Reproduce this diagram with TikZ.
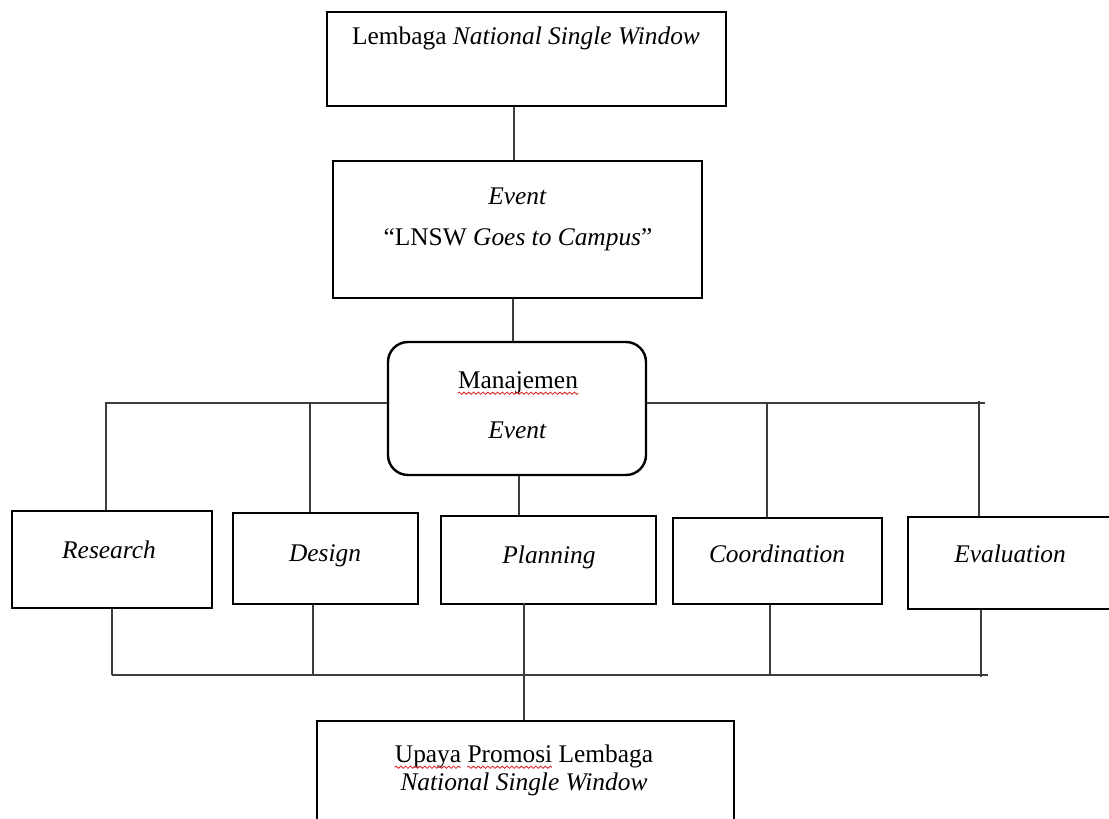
\documentclass[tikz,border=0pt]{standalone}
\usepackage{fontspec}
\setmainfont{Liberation Serif}
\usepackage{xcolor}
\usetikzlibrary{positioning,fit,decorations.pathmorphing}
\definecolor{linkgray}{RGB}{60,60,60}
\definecolor{spellred}{RGB}{220,30,30}
\newcommand\lblfont{\fontsize{12.7}{15}\selectfont}
\tikzset{
  box/.style={rectangle, draw=black, line width=1.35pt, inner sep=0pt},
  mgbox/.style={box, rounded corners=10pt, line width=1.2pt},
  txt/.style={anchor=base, inner sep=0pt, font=\lblfont},
  link/.style={draw=linkgray, line width=0.7pt},
  squig/.style={draw=spellred, line width=0.4pt, decorate, decoration={snake, amplitude=0.55pt, segment length=2.4pt}}
}

\begin{document}
\begin{tikzpicture}[x=0.5pt,y=-0.5pt]
  \useasboundingbox (0,0) rectangle (1109,819);
  \lblfont
  % upper chain
  \node[box, fit={(327,12) (726,106)}] (nsw) {};
  \node[txt] (nswtxt) at (526,45) {Lembaga \textit{National Single Window}};
  \node[box, fit={(333,161) (702,298)}] (event) {};
  \node[txt] (eventtxt) at (517.5,204) {\textit{Event}};
  \node[txt] (lnswtxt) at (518,245) {“LNSW \textit{Goes to Campus}”};
  \node[mgbox, fit={(388,342) (646,475)}] (mg) {};
  \node[txt] (mgtxt) at (518,388) {Manajemen};
  \node[txt] (mgtxt2) at (517.5,438) {\textit{Event}};
  \draw[link] (nsw.south -| 514,0) -- (event.north -| 514,0);
  \draw[link] (event.south -| 513,0) -- (mg.north -| 513,0);

  % five stages
  \node[box, fit={(12,511) (212,608)}] (research) {};
  \node[txt] (researchtxt) at (109,558) {\textit{Research}};
  \node[box, fit={(233,513) (418,604)}] (design) {};
  \node[txt] (designtxt) at (325,561) {\textit{Design}};
  \node[box, fit={(441,516) (656,604)}] (planning) {};
  \node[txt] (planningtxt) at (549,563) {\textit{Planning}};
  \node[box, fit={(673,518) (882,604)}] (coord) {};
  \node[txt] (coordtxt) at (777,562) {\textit{Coordination}};
  \node[box, fit={(908,517) (1112,609)}] (eval) {};
  \node[txt] (evaltxt) at (1010,562) {\textit{Evaluation}};

  % upper bus
  \coordinate (busL) at (106,403);
  \coordinate (busR) at (985,403);
  \draw[link] (mg.west |- busL) -- (busL) -- (research.north -| busL);
  \draw[link] (mg.east |- busR) -- (busR);
  \draw[link] (design.north -| 310,0) -- (busL -| 310,0);
  \draw[link] (mg.south -| 519,0) -- (planning.north -| 519,0);
  \draw[link] (coord.north -| 767,0) -- (busR -| 767,0);
  \draw[link] (eval.north -| 979,0) -- ([yshift=1pt]busR -| 979,0);

  % lower bus
  \coordinate (lowL) at (112,675);
  \coordinate (lowR) at (988,675);
  \draw[link] (lowL) -- (lowR);
  \draw[link] (research.south -| lowL) -- (lowL);
  \draw[link] (design.south -| 313,0) -- (lowL -| 313,0);
  \draw[link] (coord.south -| 770,0) -- (lowL -| 770,0);
  \draw[link] (eval.south -| 981,0) -- ([yshift=-1pt]lowL -| 981,0);

  % result
  \node[box, fit={(317,721) (734,840)}] (upaya) {};
  \node[txt] (upayatxt) at (524,762) {Upaya Promosi Lembaga};
  \node[txt] (upayatxt2) at (524,790) {\textit{National Single Window}};
  \draw[link] ([yshift=1pt]planning.south -| 524,0) -- (upaya.north -| 524,0);

  % spelling marks
  \pgfmathsetmacro\wup{width("Upaya")}
  \pgfmathsetmacro\wupp{width("Upaya Promosi")}
  \pgfmathsetmacro\wpro{width("Promosi")}
  \draw[squig] ([yshift=-2.6pt]mgtxt.base west) -- ([yshift=-2.6pt]mgtxt.base east);
  \draw[squig] ([yshift=-2.6pt]upayatxt.base west) -- ++(\wup pt,0pt);
  \draw[squig] ([xshift={\wupp pt-\wpro pt}, yshift=-2.6pt]upayatxt.base west) -- ++(\wpro pt,0pt);
\end{tikzpicture}
\end{document}
